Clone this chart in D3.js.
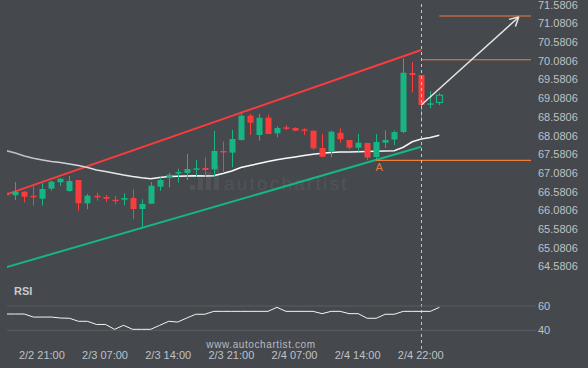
<!DOCTYPE html>
<html>
<head>
<meta charset="utf-8">
<script src="https://cdn.jsdelivr.net/npm/d3@7"></script>
<style>
  html, body { margin: 0; padding: 0; background: #45484d; }
  svg { display: block; font-family: "Liberation Sans", Arial, sans-serif; }
</style>
</head>
<body>
<div id="chart"></div>
<script>
// candles, one per bar index: open, high, low, close
var opens  = [66.550,66.481,66.577,66.470,66.389,66.657,66.828,66.595,66.890,66.266,66.470,66.435,66.363,66.363,66.408,66.114,66.256,66.711,66.951,67.064,67.077,67.176,67.211,67.176,67.666,67.621,67.960,68.611,68.094,68.557,68.140,68.300,68.281,68.247,68.209,67.746,67.647,68.155,67.960,67.754,67.880,67.505,67.888,67.973,68.174,69.753,69.699,68.916,68.964];
var highs  = [66.560,66.836,66.595,66.737,66.801,66.871,66.943,66.997,66.890,66.515,66.550,66.488,66.462,66.534,66.641,66.373,66.836,66.962,67.085,67.192,67.586,67.425,67.497,68.209,67.915,68.228,68.675,68.656,68.664,68.637,68.327,68.354,68.300,68.273,68.209,68.121,68.209,68.273,67.960,68.121,67.888,68.121,68.214,68.214,70.146,70.047,69.699,69.266,69.218];
var lows   = [66.470,66.355,66.293,66.202,66.202,66.603,66.729,66.575,66.068,66.106,66.336,66.301,66.240,66.213,65.838,65.624,66.248,66.603,66.694,66.818,66.890,66.978,66.978,66.978,67.085,67.230,67.942,68.094,67.942,68.121,68.033,68.228,68.201,68.094,67.693,67.497,67.497,67.888,67.711,67.647,67.425,67.425,67.746,67.826,68.140,69.231,68.442,68.808,68.889];
var closes = [66.481,66.577,66.443,66.427,66.649,66.844,66.924,66.863,66.266,66.470,66.427,66.389,66.328,66.408,66.114,66.248,66.737,66.890,67.031,67.104,67.184,67.203,67.158,67.666,67.639,67.987,68.611,68.423,68.557,68.121,68.281,68.273,68.209,68.220,67.738,67.513,68.182,67.979,67.754,67.888,67.492,67.907,67.960,68.174,69.761,69.699,68.897,68.942,69.159];

// moving average
var maValues = [67.674,67.612,67.532,67.470,67.425,67.385,67.358,67.318,67.278,67.224,67.157,67.117,67.072,67.024,66.983,66.948,66.924,66.957,66.981,66.989,66.997,67.002,66.997,67.005,67.064,67.131,67.224,67.278,67.331,67.382,67.430,67.470,67.505,67.545,67.577,67.607,67.626,67.636,67.642,67.647,67.652,67.658,67.666,67.674,67.767,67.912,67.987,68.030,68.086];

// rsi
var rsiValues = [53.4,53.4,53.4,50.9,50.9,50.9,50.1,49.9,47.4,47.4,44.8,44.8,40.8,44.1,40.8,40.8,40.8,44.1,47.4,46.8,50.1,53.2,53.2,55.6,55.6,55.6,55.6,55.6,55.6,55.6,58.9,55.6,55.6,55.6,55.6,53.7,55.6,55.6,53.7,53.7,49.9,49.9,53.2,53.2,55.6,55.6,55.6,55.6,58.9];

// pattern lines: [bar index, price]
var upperLine = [[0, 66.502], [46, 70.368]];
var lowerLine = [[0, 64.556], [46, 67.778]];
var arrowLine = [[46, 68.897], [56.8, 71.25]];
var levelStarts = [48, 46, 41];
var levelPrices = [71.278, 70.107, 67.417];

// axes
var priceTicks = [71.5806,71.0806,70.5806,70.0806,69.5806,69.0806,68.5806,68.0806,67.5806,67.0806,66.5806,66.0806,65.5806,65.0806,64.5806];
var dateTickIdx = [4, 11, 18, 25, 32, 39, 46];
var dateTickLabels = ["2/2 21:00","2/3 07:00","2/3 14:00","2/3 21:00","2/4 07:00","2/4 14:00","2/4 22:00"];
var rsiTicks = [60, 40];

var W = 588, H = 368;
var plotLeft = 7, plotRight = 531, plotBottom = 280;
var green = "#17b584", red = "#fa3c3c", orange = "#f37b3a", bg = "#45484d";

var x = d3.scaleLinear().domain([0, 46]).range([6.3, 421.3]);
var y = d3.scaleLinear().domain([64.5806, 71.5806]).range([266.3, 4.7]);
var yr = d3.scaleLinear().domain([40, 60]).range([330.3, 306]);

var svg = d3.select("#chart").append("svg")
    .attr("width", W)
    .attr("height", H);

svg.append("rect").attr("width", W).attr("height", H).attr("fill", bg);

var defs = svg.append("defs");
defs.append("clipPath").attr("id", "plotclip")
  .append("rect")
    .attr("x", plotLeft).attr("y", 0)
    .attr("width", plotRight - plotLeft).attr("height", plotBottom);
defs.append("clipPath").attr("id", "plotclip2")
  .append("rect").attr("x", plotLeft).attr("y", 280).attr("width", plotRight - plotLeft).attr("height", 70);

var grad = defs.append("linearGradient").attr("id", "magrad")
    .attr("x1", "0%").attr("x2", "100%");
grad.append("stop").attr("offset", "0%").attr("stop-color", "#b9bbbe");
grad.append("stop").attr("offset", "40%").attr("stop-color", "#ffffff");
grad.append("stop").attr("offset", "100%").attr("stop-color", "#f2f2f2");

// watermark
var wm = svg.append("g").attr("fill", "#505459");
[5, 12, 18, 24].forEach(function(h, i) {
  wm.append("rect").attr("x", 190 + i * 8).attr("y", 190 - h).attr("width", 5).attr("height", h);
});
wm.append("text")
    .attr("x", 224).attr("y", 190)
    .style("font-size", "19px")
    .style("letter-spacing", "2.2px")
    .text("autochartist");

var plot = svg.append("g").attr("clip-path", "url(#plotclip)");

// channel
var line = d3.line().x(function(d) { return x(d[0]); }).y(function(d) { return y(d[1]); });
plot.append("path").datum(lowerLine).attr("d", line)
    .attr("stroke", green).attr("stroke-width", 2).attr("fill", "none");
plot.append("path").datum(upperLine).attr("d", line)
    .attr("stroke", red).attr("stroke-width", 2).attr("fill", "none");

// moving average
plot.append("path")
    .datum(maValues)
    .attr("d", d3.line().x(function(d, i) { return x(i); }).y(function(d) { return y(d); }))
    .attr("stroke", "url(#magrad)").attr("stroke-width", 1.5).attr("fill", "none");

// candles
var candles = d3.range(opens.length).map(function(i) {
  return { i: i, o: opens[i], h: highs[i], l: lows[i], c: closes[i] };
});
var last = candles.length - 1;
var cg = plot.selectAll(".candle").data(candles).enter().append("g").attr("class", "candle");
cg.append("line")
    .attr("x1", function(d) { return Math.round(x(d.i)) + 0.5; })
    .attr("x2", function(d) { return Math.round(x(d.i)) + 0.5; })
    .attr("y1", function(d) { return y(d.h); })
    .attr("y2", function(d) { return y(d.l); })
    .attr("stroke", function(d) { return d.c >= d.o ? green : red; })
    .attr("stroke-width", 1);
cg.append("rect")
    .attr("x", function(d) { return Math.round(x(d.i)) - 2.5; })
    .attr("width", 6)
    .attr("y", function(d) { return y(Math.max(d.o, d.c)); })
    .attr("height", function(d) { return Math.max(1.5, Math.abs(y(d.o) - y(d.c))); })
    .attr("fill", function(d) { return d.i === last ? bg : (d.c >= d.o ? green : red); })
    .attr("stroke", function(d) { return d.i === last ? green : "none"; })
    .attr("stroke-width", 1.2);

// levels
levelPrices.forEach(function(p, k) {
  plot.append("line")
      .attr("x1", x(levelStarts[k])).attr("x2", plotRight)
      .attr("y1", y(p)).attr("y2", y(p))
      .attr("stroke", orange).attr("stroke-width", 1.2);
});
svg.append("text")
    .attr("x", x(levelStarts[2]) + 3).attr("y", y(levelPrices[2]) + 11)
    .attr("text-anchor", "middle")
    .style("font-size", "11px")
    .attr("fill", "#e07a3c")
    .text("A");

// forecast arrow
var ax0 = x(arrowLine[0][0]), ay0 = y(arrowLine[0][1]);
var ax1 = x(arrowLine[1][0]), ay1 = y(arrowLine[1][1]);
var ang = Math.atan2(ay1 - ay0, ax1 - ax0);
svg.append("line")
    .attr("x1", ax0).attr("y1", ay0).attr("x2", ax1).attr("y2", ay1)
    .attr("stroke", "#e6e6e6").attr("stroke-width", 1.5);
[-0.5, 0.5].forEach(function(s) {
  svg.append("line")
      .attr("x1", ax1).attr("y1", ay1)
      .attr("x2", ax1 - 10 * Math.cos(ang + s))
      .attr("y2", ay1 - 10 * Math.sin(ang + s))
      .attr("stroke", "#e6e6e6").attr("stroke-width", 1.5);
});

// current bar marker
svg.append("line")
    .attr("x1", Math.round(x(46)) + 0.5).attr("x2", Math.round(x(46)) + 0.5)
    .attr("y1", 4).attr("y2", 350)
    .attr("stroke", "#c4c6c9").attr("stroke-width", 1)
    .attr("stroke-dasharray", "3,3");

// price axis
var yAxis = svg.append("g")
    .attr("transform", "translate(536,0)")
    .call(d3.axisRight(y).tickValues(priceTicks).tickSize(0).tickPadding(2).tickFormat(d3.format(".4f")));
yAxis.select(".domain").remove();
yAxis.selectAll("text").attr("fill", "#bfc2c6").style("font-size", "11px")
    .style("font-family", "'Liberation Sans', Arial, sans-serif");

// rsi panel
svg.selectAll(".rsigrid").data(rsiTicks).enter().append("line")
    .attr("class", "rsigrid")
    .attr("x1", plotLeft).attr("x2", 536)
    .attr("y1", function(d) { return yr(d); }).attr("y2", function(d) { return yr(d); })
    .attr("stroke", "#5b5f64").attr("stroke-width", 1);

svg.append("path")
    .datum(rsiValues)
    .attr("d", d3.line().x(function(d, i) { return x(i); }).y(function(d) { return yr(d); }))
    .attr("stroke", "#f4f4f4").attr("stroke-width", 1).attr("fill", "none")
    .attr("clip-path", "url(#plotclip2)");

var rAxis = svg.append("g")
    .attr("transform", "translate(536,0)")
    .call(d3.axisRight(yr).tickValues(rsiTicks).tickSize(0).tickPadding(2));
rAxis.select(".domain").remove();
rAxis.selectAll("text").attr("fill", "#bfc2c6").style("font-size", "11px")
    .style("font-family", "'Liberation Sans', Arial, sans-serif");

svg.append("text")
    .attr("x", 14).attr("y", 295)
    .attr("fill", "#c8cacd")
    .style("font-size", "11px").style("font-weight", "bold")
    .text("RSI");

svg.append("text")
    .attr("x", 261).attr("y", 348)
    .attr("text-anchor", "middle")
    .attr("fill", "#b9bcc0")
    .style("font-size", "10px").style("letter-spacing", "0.6px")
    .text("www.autochartist.com");

// time axis
var xAxis = svg.append("g")
    .attr("transform", "translate(-1,351)")
    .call(d3.axisBottom(x).tickValues(dateTickIdx).tickSize(0).tickPadding(0)
      .tickFormat(function(d, i) { return dateTickLabels[i]; }));
xAxis.select(".domain").remove();
xAxis.selectAll("text").attr("fill", "#bfc2c6").style("font-size", "11px")
    .style("font-family", "'Liberation Sans', Arial, sans-serif");
</script>
</body>
</html>
